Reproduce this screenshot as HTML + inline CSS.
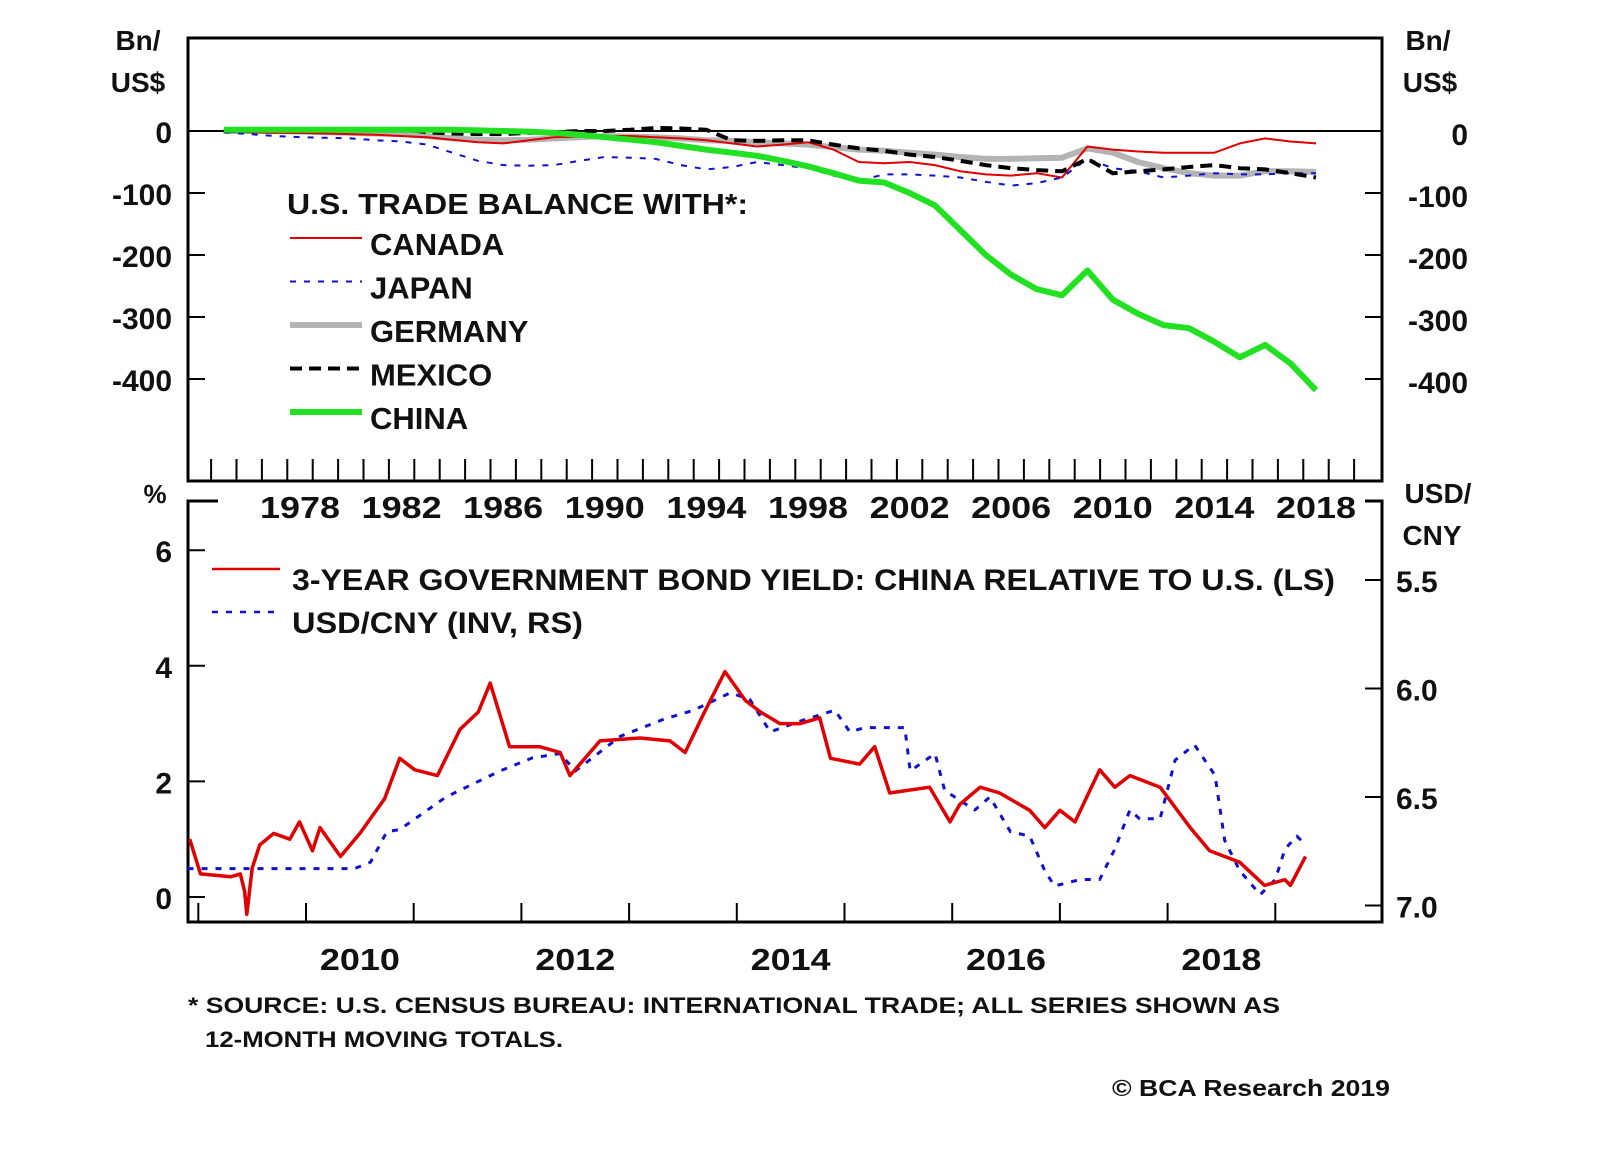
<!DOCTYPE html>
<html><head><meta charset="utf-8"><style>
body{margin:0;background:#fff;}
svg text{font-family:"Liberation Sans",sans-serif;font-weight:bold;fill:#111;}
</style></head><body>
<svg width="1600" height="1152" viewBox="0 0 1600 1152">
<g id="topg"></g>
<g id="botg"></g>
<g id="txt">
<text x="138" y="50" font-size="28" text-anchor="middle">Bn/</text>
<text x="138" y="92" font-size="28" text-anchor="middle">US$</text>
<text x="1428" y="50" font-size="28" text-anchor="middle">Bn/</text>
<text x="1430" y="92" font-size="28" text-anchor="middle">US$</text>
<text x="155" y="503" font-size="26" text-anchor="middle">%</text>
<text x="1438" y="503" font-size="28" text-anchor="middle">USD/</text>
<text x="1432" y="545" font-size="28" text-anchor="middle">CNY</text>
<text x="287" y="214" font-size="29" textLength="461" lengthAdjust="spacingAndGlyphs">U.S. TRADE BALANCE WITH*:</text>
<text x="188" y="1013" font-size="22" textLength="1092" lengthAdjust="spacingAndGlyphs">* SOURCE: U.S. CENSUS BUREAU: INTERNATIONAL TRADE; ALL SERIES SHOWN AS</text>
<text x="205" y="1047" font-size="22" textLength="358" lengthAdjust="spacingAndGlyphs">12-MONTH MOVING TOTALS.</text>
<text x="1112" y="1096" font-size="23" textLength="278" lengthAdjust="spacingAndGlyphs">© BCA Research 2019</text>
</g>
</svg>
<script>
const years=[1975,1976,1977,1978,1979,1980,1981,1982,1983,1984,1985,1986,1987,1988,1989,1990,1991,1992,1993,1994,1995,1996,1997,1998,1999,2000,2001,2002,2003,2004,2005,2006,2007,2008,2009,2010,2011,2012,2013,2014,2015,2016,2017,2018];
const canada=[0,-2,-3,-3,-4,-5,-6,-8,-10,-14,-18,-20,-15,-10,-9,-8,-8,-10,-12,-15,-20,-25,-22,-18,-30,-50,-52,-50,-55,-65,-70,-72,-68,-75,-25,-30,-33,-35,-35,-35,-20,-12,-17,-20];
const japan=[-2,-5,-8,-10,-11,-12,-15,-17,-22,-35,-48,-55,-56,-55,-48,-42,-43,-45,-55,-62,-58,-50,-55,-60,-72,-80,-70,-70,-72,-75,-82,-88,-84,-75,-45,-60,-65,-75,-72,-68,-70,-70,-68,-68];
const germany=[0,0,0,-1,-2,-3,-4,-5,-8,-12,-14,-15,-14,-12,-10,-8,-9,-10,-12,-15,-16,-18,-20,-22,-26,-30,-32,-35,-38,-42,-45,-45,-44,-43,-28,-35,-50,-60,-68,-72,-72,-65,-65,-66];
const mexico=[0,0,1,2,3,3,3,3,-2,-4,-5,-5,-3,-2,0,0,2,5,4,2,-15,-16,-15,-15,-22,-28,-32,-38,-42,-48,-55,-60,-63,-65,-45,-68,-65,-62,-58,-55,-60,-62,-68,-75];
const china=[2,2,2,2,2,2,2,2,2,2,1,0,-1,-3,-6,-10,-14,-18,-24,-30,-35,-40,-48,-57,-68,-80,-83,-100,-120,-160,-200,-232,-255,-265,-225,-272,-295,-313,-318,-340,-365,-345,-375,-418];
const topTicks=[0,-100,-200,-300,-400];
const yearLabels=[1978,1982,1986,1990,1994,1998,2002,2006,2010,2014,2018];

const yieldT=[2008.92,2009.02,2009.3,2009.39,2009.43,2009.45,2009.5,2009.57,2009.7,2009.85,2009.94,2010.06,2010.13,2010.32,2010.5,2010.73,2010.87,2011.01,2011.22,2011.43,2011.6,2011.71,2011.89,2012.17,2012.36,2012.45,2012.73,2013.1,2013.38,2013.52,2013.7,2013.89,2014.08,2014.22,2014.4,2014.59,2014.77,2014.87,2015.14,2015.28,2015.42,2015.79,2015.98,2016.07,2016.26,2016.44,2016.72,2016.86,2017.0,2017.14,2017.37,2017.51,2017.65,2017.93,2018.21,2018.39,2018.67,2018.9,2019.09,2019.14,2019.28];
const yieldV=[1.0,0.4,0.35,0.4,0.1,-0.3,0.5,0.9,1.1,1.0,1.3,0.8,1.2,0.7,1.1,1.7,2.4,2.2,2.1,2.9,3.2,3.7,2.6,2.6,2.5,2.1,2.7,2.75,2.7,2.5,3.2,3.9,3.4,3.2,3.0,3.0,3.1,2.4,2.3,2.6,1.8,1.9,1.3,1.6,1.9,1.8,1.5,1.2,1.5,1.3,2.2,1.9,2.1,1.9,1.2,0.8,0.6,0.2,0.3,0.2,0.7];
const fxT=[2008.9,2010.45,2010.6,2010.75,2010.87,2011.3,2011.8,2012.1,2012.36,2012.5,2012.92,2013.33,2013.6,2013.94,2014.12,2014.31,2014.59,2014.91,2015.05,2015.19,2015.56,2015.61,2015.84,2015.93,2016.21,2016.35,2016.54,2016.72,2016.86,2016.95,2017.19,2017.37,2017.51,2017.65,2017.74,2017.93,2018.07,2018.25,2018.44,2018.53,2018.67,2018.86,2019.0,2019.09,2019.2,2019.28];
const fxV=[6.83,6.83,6.8,6.66,6.65,6.5,6.38,6.32,6.3,6.38,6.22,6.14,6.1,6.02,6.05,6.2,6.15,6.1,6.2,6.18,6.18,6.38,6.3,6.47,6.56,6.5,6.66,6.68,6.84,6.91,6.88,6.88,6.74,6.56,6.6,6.6,6.33,6.26,6.4,6.7,6.84,6.95,6.88,6.74,6.68,6.72];
const leftTicks=[0,2,4,6];
const rightTicks=[5.5,6.0,6.5,7.0];
const botYears=[2010,2012,2014,2016,2018];

const NS='http://www.w3.org/2000/svg';
function mk(parent,tag,attrs){const e=document.createElementNS(NS,tag);for(const k in attrs)e.setAttribute(k,attrs[k]);parent.appendChild(e);return e;}
const topG=document.getElementById('topg'), botG=document.getElementById('botg');
const xT=t=>300+(t-1978.5)*25.4;
const yT=v=>131-v*0.62;
const xB=t=>306+(t-2010)*107.7;
const yL=v=>897-v*57.8;
const yR=v=>580+(v-5.5)*217;
let e;
e=mk(topG,'rect',{x:188,y:38,width:1194,height:443,fill:'none',stroke:'#000','stroke-width':3});


e=mk(topG,'line',{x1:188,x2:1382,y1:yT(0),y2:yT(0),stroke:'#000','stroke-width':2});


for(let yr=1975;yr<=2020;yr++){const x=xT(yr);if(x<=190||x>=1380)continue;
 e=mk(topG,'line',{x1:x,x2:x,y1:459,y2:481,stroke:'#000','stroke-width':2});
 
 }
topTicks.forEach(v=>{
 e=mk(topG,'line',{x1:188,x2:205,y1:yT(v),y2:yT(v),stroke:'#000','stroke-width':2});
 
 
 e=mk(topG,'line',{x1:1365,x2:1382,y1:yT(v),y2:yT(v),stroke:'#000','stroke-width':2});
 
 
 e=mk(topG,'text',{x:172,y:yT(v)+12,'font-size':30,'text-anchor':'end'});e.textContent=v;
 
 
 e=mk(topG,'text',{x:1468,y:yT(v)+14,'font-size':30,'text-anchor':'end'});e.textContent=v;
 
 
});
yearLabels.forEach(y=>{e=mk(topG,'text',{x:xT(y+0.5)-40,y:518,'font-size':31,textLength:80,lengthAdjust:'spacingAndGlyphs'});e.textContent=y;
 
 });
function series(g,ts,vs,fx,fy,st,name){
 const pts=ts.map((t,i)=>fx(t).toFixed(1)+','+fy(vs[i]).toFixed(1)).join(' ');
 const p=mk(g,'polyline',Object.assign({points:pts,fill:'none','stroke-linejoin':'round'},st));
 
 
}
const yMid=years.map(y=>y+0.5);
const sty={
 germany:{stroke:'#b4b4b4','stroke-width':6},
 canada:{stroke:'#e00000','stroke-width':2},
 japan:{stroke:'#1010d0','stroke-width':2,'stroke-dasharray':'6,8'},
 mexico:{stroke:'#000','stroke-width':4,'stroke-dasharray':'12,7'},
 china:{stroke:'#22e022','stroke-width':6}
};
series(topG,yMid,germany,xT,yT,sty.germany,'germany-line');
series(topG,yMid,canada,xT,yT,sty.canada,'canada-line');
series(topG,yMid,japan,xT,yT,sty.japan,'japan-line');
series(topG,yMid,mexico,xT,yT,sty.mexico,'mexico-line');
series(topG,yMid,china,xT,yT,sty.china,'china-line');
const legend=[['CANADA','canada'],['JAPAN','japan'],['GERMANY','germany'],['MEXICO','mexico'],['CHINA','china']];
legend.forEach((l,i)=>{const y=238+i*43.5;
 e=mk(topG,'line',Object.assign({x1:290,x2:362,y1:y,y2:y},sty[l[1]]));
 
 
 e=mk(topG,'text',{x:370,y:y+17,'font-size':31});e.textContent=l[0];
 
 });

e=mk(botG,'path',{d:'M218,501 H188 V922 H1382 V501 H1365',fill:'none',stroke:'#000','stroke-width':3});


for(let yr=2009;yr<=2019;yr++){const x=xB(yr);
 e=mk(botG,'line',{x1:x,x2:x,y1:903,y2:922,stroke:'#000','stroke-width':2});
 
 }
leftTicks.forEach(v=>{
 e=mk(botG,'line',{x1:188,x2:205,y1:yL(v),y2:yL(v),stroke:'#000','stroke-width':2});
 
 
 e=mk(botG,'text',{x:172,y:yL(v)+12,'font-size':30,'text-anchor':'end'});e.textContent=v;
 
 });
rightTicks.forEach(v=>{
 e=mk(botG,'line',{x1:1365,x2:1382,y1:yR(v),y2:yR(v),stroke:'#000','stroke-width':2});
 
 
 e=mk(botG,'text',{x:1396,y:yR(v)+12,'font-size':30});e.textContent=v.toFixed(1);
 
 });
botYears.forEach(y=>{e=mk(botG,'text',{x:xB(y+0.5)-40,y:970,'font-size':31,textLength:80,lengthAdjust:'spacingAndGlyphs'});e.textContent=y;
 
 });
series(botG,fxT,fxV,xB,yR,{stroke:'#1010d0','stroke-width':3,'stroke-dasharray':'6,8'},'usdcny-line');
series(botG,yieldT,yieldV,xB,yL,{stroke:'#e00000','stroke-width':3.5},'yield-spread-line');
e=mk(botG,'line',{x1:212,x2:280,y1:569,y2:569,stroke:'#e00000','stroke-width':2.5});


e=mk(botG,'text',{x:292,y:590,'font-size':30,textLength:1043,lengthAdjust:'spacingAndGlyphs'});e.textContent='3-YEAR GOVERNMENT BOND YIELD: CHINA RELATIVE TO U.S. (LS)';


e=mk(botG,'line',{x1:212,x2:280,y1:612,y2:612,stroke:'#1010d0','stroke-width':2.5,'stroke-dasharray':'6,8'});


e=mk(botG,'text',{x:292,y:633,'font-size':30,textLength:291,lengthAdjust:'spacingAndGlyphs'});e.textContent='USD/CNY (INV, RS)';


</script>
</body></html>
